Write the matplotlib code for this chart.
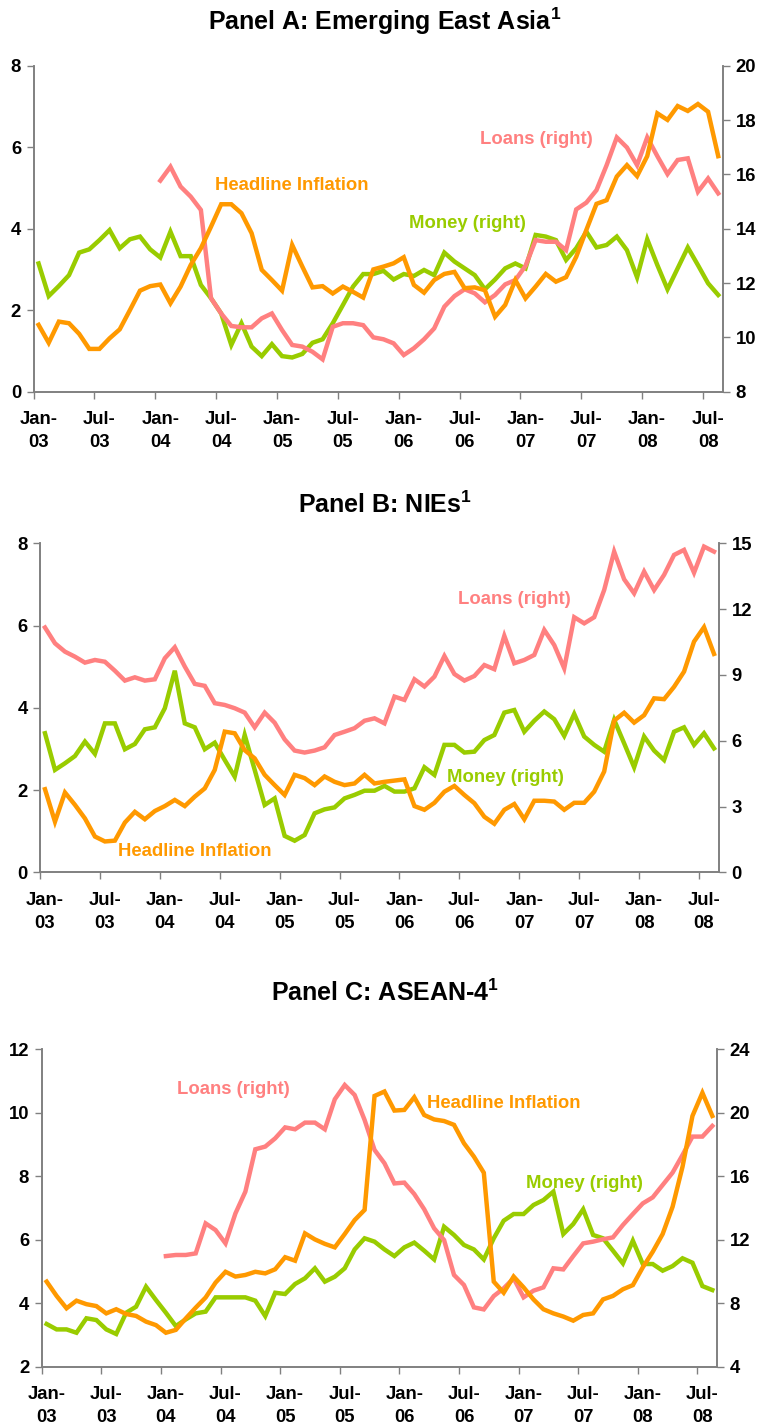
import numpy as np
import matplotlib
matplotlib.use("Agg")
import matplotlib.pyplot as plt
from matplotlib.ticker import FixedLocator, FixedFormatter, NullFormatter

plt.rcParams['font.family'] = ['Liberation Sans', 'DejaVu Sans']
plt.rcParams['font.weight'] = 'bold'
plt.rcParams['mathtext.fontset'] = 'custom'
plt.rcParams['mathtext.rm'] = 'Liberation Sans:bold'
plt.rcParams['mathtext.bf'] = 'Liberation Sans:bold'
plt.rcParams['mathtext.default'] = 'bf'

# ---------------- data ----------------
months = 68  # Jan-03 .. Aug-08
tick_labels = ["Jan-\n03", "Jul-\n03", "Jan-\n04", "Jul-\n04", "Jan-\n05", "Jul-\n05",
               "Jan-\n06", "Jul-\n06", "Jan-\n07", "Jul-\n07", "Jan-\n08", "Jul-\n08"]

# Panel A: Emerging East Asia
a_inflation = [1.64, 1.20, 1.72, 1.68, 1.42, 1.05, 1.05, 1.31, 1.53, 2.00, 2.48, 2.59,
               2.63, 2.17, 2.58, 3.11, 3.52, 4.05, 4.60, 4.60, 4.38, 3.89, 2.99, 2.74,
               2.48, 3.60, 3.07, 2.56, 2.59, 2.41, 2.58, 2.45, 2.31, 3.00, 3.07, 3.15,
               3.30, 2.62, 2.43, 2.74, 2.89, 2.94, 2.54, 2.56, 2.49, 1.84, 2.13, 2.74,
               2.29, 2.58, 2.89, 2.70, 2.81, 3.31, 3.97, 4.61, 4.70, 5.28, 5.56, 5.29,
               5.78, 6.83, 6.67, 7.01, 6.89, 7.06, 6.87, 5.78]
a_money = [12.72, 11.52, 11.89, 12.29, 13.12, 13.24, 13.58, 13.95, 13.28, 13.61, 13.71, 13.24,
           12.94, 13.89, 12.99, 12.99, 11.93, 11.44, 10.88, 9.72, 10.52, 9.66, 9.31, 9.75,
           9.31, 9.26, 9.39, 9.80, 9.93, 10.52, 11.19, 11.87, 12.33, 12.33, 12.45, 12.13,
           12.33, 12.26, 12.48, 12.29, 13.12, 12.79, 12.54, 12.29, 11.77, 12.13, 12.54, 12.72,
           12.54, 13.77, 13.71, 13.58, 12.85, 13.28, 13.89, 13.31, 13.40, 13.71, 13.21, 12.21,
           13.61, 12.66, 11.77, 12.54, 13.31, 12.66, 11.99, 11.56]
a_loans = [None] * 12 + [
           15.77, 16.28, 15.55, 15.18, 14.69, 11.44, 10.88, 10.42, 10.37, 10.37, 10.70, 10.88,
           10.27, 9.72, 9.66, 9.47, 9.19, 10.39, 10.52, 10.52, 10.45, 10.00, 9.93, 9.78,
           9.35, 9.60, 9.93, 10.33, 11.13, 11.52, 11.77, 11.62, 11.29, 11.56, 11.95, 12.11,
           12.63, 13.58, 13.52, 13.52, 13.21, 14.71, 14.96, 15.42, 16.34, 17.36, 16.99, 16.34,
           17.36, 16.67, 16.01, 16.53, 16.59, 15.36, 15.85, 15.30]

# Panel B: NIEs
b_inflation = [2.02, 1.23, 1.94, 1.64, 1.31, 0.87, 0.75, 0.77, 1.21, 1.47, 1.29, 1.49,
               1.61, 1.76, 1.61, 1.84, 2.04, 2.49, 3.42, 3.38, 2.97, 2.77, 2.37, 2.12,
               1.88, 2.37, 2.29, 2.12, 2.33, 2.20, 2.12, 2.16, 2.37, 2.16, 2.20, 2.23,
               2.26, 1.61, 1.52, 1.69, 1.96, 2.10, 1.88, 1.68, 1.35, 1.18, 1.52, 1.66,
               1.29, 1.74, 1.74, 1.72, 1.52, 1.69, 1.69, 1.96, 2.45, 3.69, 3.88, 3.64,
               3.82, 4.23, 4.21, 4.51, 4.88, 5.61, 5.96, 5.31]
b_money = [6.34, 4.67, 4.97, 5.30, 5.96, 5.40, 6.79, 6.79, 5.61, 5.85, 6.52, 6.61,
           7.48, 9.19, 6.79, 6.61, 5.61, 5.91, 5.12, 4.36, 6.26, 4.67, 3.07, 3.37,
           1.66, 1.44, 1.70, 2.69, 2.87, 2.96, 3.37, 3.53, 3.72, 3.72, 3.94, 3.68,
           3.68, 3.83, 4.79, 4.44, 5.81, 5.81, 5.46, 5.50, 6.03, 6.26, 7.28, 7.40,
           6.41, 6.91, 7.33, 6.98, 6.22, 7.22, 6.19, 5.81, 5.50, 6.95, 5.88, 4.79,
           6.19, 5.55, 5.12, 6.41, 6.61, 5.81, 6.34, 5.65]
b_loans = [11.16, 10.44, 10.06, 9.83, 9.56, 9.68, 9.60, 9.19, 8.74, 8.89, 8.74, 8.80,
           9.76, 10.26, 9.38, 8.59, 8.50, 7.71, 7.63, 7.48, 7.28, 6.61, 7.28, 6.82,
           6.06, 5.55, 5.46, 5.55, 5.70, 6.26, 6.41, 6.57, 6.91, 7.02, 6.79, 8.01,
           7.86, 8.80, 8.47, 8.92, 9.86, 9.04, 8.74, 8.95, 9.45, 9.26, 10.78, 9.53,
           9.68, 9.91, 11.05, 10.36, 9.30, 11.63, 11.35, 11.63, 12.87, 14.62, 13.36, 12.72,
           13.71, 12.87, 13.56, 14.47, 14.70, 13.66, 14.85, 14.62]

# Panel C: ASEAN-4
c_inflation = [4.68, 4.23, 3.84, 4.08, 3.97, 3.91, 3.68, 3.81, 3.66, 3.60, 3.42, 3.31,
               3.07, 3.16, 3.52, 3.86, 4.18, 4.65, 4.99, 4.84, 4.89, 4.99, 4.94, 5.07,
               5.45, 5.34, 6.20, 6.01, 5.87, 5.76, 6.18, 6.62, 6.94, 10.53, 10.67, 10.07,
               10.09, 10.49, 9.93, 9.79, 9.74, 9.62, 9.04, 8.62, 8.11, 4.68, 4.33, 4.84,
               4.50, 4.12, 3.81, 3.68, 3.58, 3.45, 3.63, 3.68, 4.12, 4.23, 4.44, 4.57,
               5.13, 5.62, 6.18, 7.04, 8.30, 9.90, 10.63, 9.90]
c_money = [6.69, 6.35, 6.35, 6.14, 7.05, 6.94, 6.35, 6.06, 7.40, 7.78, 9.04, 8.20,
           7.40, 6.56, 6.98, 7.36, 7.47, 8.37, 8.37, 8.37, 8.37, 8.16, 7.19, 8.66,
           8.58, 9.21, 9.57, 10.20, 9.36, 9.67, 10.20, 11.39, 12.09, 11.88, 11.39, 10.97,
           11.52, 11.82, 11.31, 10.76, 12.82, 12.30, 11.67, 11.39, 10.76, 12.09, 13.20, 13.62,
           13.62, 14.19, 14.50, 15.03, 12.36, 12.99, 13.92, 12.30, 12.09, 11.31, 10.51, 11.94,
           10.47, 10.47, 10.05, 10.34, 10.83, 10.55, 9.08, 8.83]
c_loans = [None] * 12 + [
           10.97, 11.04, 11.04, 11.14, 13.03, 12.61, 11.77, 13.66, 15.03, 17.70, 17.87, 18.39,
           19.08, 18.96, 19.38, 19.38, 18.96, 20.85, 21.75, 21.12, 19.55, 17.66, 16.82, 15.55,
           15.60, 14.88, 13.92, 12.72, 11.98, 9.78, 9.15, 7.74, 7.61, 8.45, 8.94, 9.57,
           8.37, 8.79, 9.00, 10.20, 10.13, 10.97, 11.77, 11.88, 12.03, 12.15, 12.93, 13.62,
           14.29, 14.67, 15.45, 16.23, 17.34, 18.50, 18.50, 19.17]

ORANGE = '#FF9900'
GREEN = '#99CC00'
PINK = '#FF8080'
GRAY = '#808080'

W, H = 757, 1427
fig = plt.figure(figsize=(W / 100, H / 100), dpi=100)


def px_axes(left, right, top, bottom):
    return fig.add_axes([left / W, 1 - bottom / H, (right - left) / W, (bottom - top) / H])


def to_arr(v):
    return np.array([np.nan if x is None else x for x in v], dtype=float)


panels = [
    dict(box=(33.5, 723.3, 65.7, 391.7), title='Panel A: Emerging East Asia$^1$', title_xy=(385, 21),
         infl=a_inflation, money=a_money, loans=a_loans,
         lylim=(0, 8), lticks=[0, 2, 4, 6, 8], rylim=(8, 20), rticks=[8, 10, 12, 14, 16, 18, 20],
         labels=[('Headline Inflation', ORANGE, 292, 185), ('Loans (right)', PINK, 536, 139),
                 ('Money (right)', GREEN, 467, 223)]),
    dict(box=(40, 719, 543.3, 872.3), title='Panel B: NIEs$^1$', title_xy=(385, 505),
         infl=b_inflation, money=b_money, loans=b_loans,
         lylim=(0, 8), lticks=[0, 2, 4, 6, 8], rylim=(0, 15), rticks=[0, 3, 6, 9, 12, 15],
         labels=[('Loans (right)', PINK, 514, 599), ('Money (right)', GREEN, 505, 777),
                 ('Headline Inflation', ORANGE, 195, 851)]),
    dict(box=(41.7, 717.3, 1049.3, 1366.7), title='Panel C: ASEAN-4$^1$', title_xy=(385, 993),
         infl=c_inflation, money=c_money, loans=c_loans,
         lylim=(2, 12), lticks=[2, 4, 6, 8, 10, 12], rylim=(4, 24), rticks=[4, 8, 12, 16, 20, 24],
         labels=[('Loans (right)', PINK, 233, 1089), ('Headline Inflation', ORANGE, 504, 1103),
                 ('Money (right)', GREEN, 584, 1183)]),
]

x = np.arange(months)
FS = 13.3
LW = 3.2

for p in panels:
    ax = px_axes(*p['box'])
    ax2 = ax.twinx()
    ax.set_zorder(ax2.get_zorder() + 1)
    ax.patch.set_visible(False)

    ax2.plot(x, to_arr(p['money']), color=GREEN, lw=LW, solid_joinstyle='miter')
    ax2.plot(x, to_arr(p['loans']), color=PINK, lw=LW, solid_joinstyle='miter')
    ax.plot(x, to_arr(p['infl']), color=ORANGE, lw=LW, solid_joinstyle='miter')

    ax.set_xlim(-0.5, months - 0.5)
    ax.set_ylim(*p['lylim'])
    ax2.set_ylim(*p['rylim'])
    ax.set_yticks(p['lticks'])
    ax2.set_yticks(p['rticks'])

    # x ticks at category boundaries, labels centred on categories
    bounds = np.arange(-0.5, months - 1, 6)
    ax.xaxis.set_major_locator(FixedLocator(bounds))
    ax.xaxis.set_major_formatter(NullFormatter())
    ax.xaxis.set_minor_locator(FixedLocator(np.arange(0, months, 6)))
    ax.xaxis.set_minor_formatter(FixedFormatter(tick_labels))
    ax.tick_params(axis='x', which='minor', length=0, pad=14, labelsize=FS)
    ax.tick_params(axis='x', which='major', length=5, width=1, color=GRAY, direction='out')
    ax.tick_params(axis='y', length=5, width=1, color=GRAY, direction='out', labelsize=FS, pad=4)
    ax2.tick_params(axis='y', length=5, width=1, color=GRAY, direction='out', labelsize=FS, pad=4)
    for lab in ax.get_xticklabels(minor=True):
        lab.set_fontweight('bold')
        lab.set_linespacing(1.45)

    for a in (ax, ax2):
        a.spines['top'].set_visible(False)
        for s in ('left', 'right', 'bottom'):
            a.spines[s].set_color(GRAY)
            a.spines[s].set_linewidth(1.2)

    fig.text(p['title_xy'][0] / W, 1 - p['title_xy'][1] / H, p['title'],
             ha='center', va='center', fontsize=18, fontweight='bold')
    for txt, col, px, py in p['labels']:
        fig.text(px / W, 1 - py / H, txt, color=col, ha='center', va='center',
                 fontsize=FS, fontweight='bold')

fig.savefig('out.png', dpi=100)
